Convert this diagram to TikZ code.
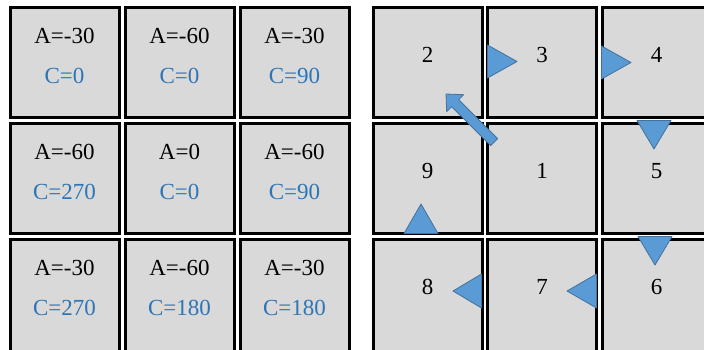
\documentclass[tikz,border=0pt]{standalone}
\usepackage{fontspec}
\setmainfont{Liberation Serif}
\definecolor{cellgray}{RGB}{217,217,217}
\definecolor{cblue}{RGB}{46,117,182}
\definecolor{mfill}{RGB}{91,155,213}
\definecolor{mline}{RGB}{65,113,156}
\tikzset{
  cell/.style={draw=black, line width=3pt, fill=cellgray, inner sep=0pt,
    minimum width=109pt, anchor=north west},
  alabel/.style={anchor=base, text=black, inner sep=0pt,
    font=\fontsize{23}{27}\selectfont},
  clabel/.style={alabel, text=cblue},
  marker/.style={fill=mfill, draw=mline, line width=0.8pt, line join=round}
}
\begin{document}
\begin{tikzpicture}[x=1pt, y=-1pt]
  \useasboundingbox (0,0) rectangle (704,349);
  \clip (0,0) rectangle (704,349);
  % Left grid: A and C values
  \foreach \r/\top/\h in {1/5.5/110.5, 2/121.5/110.5, 3/237.5/120}
    \foreach \c/\left in {1/8.5, 2/123.5, 3/238.5}
      \node[cell, minimum height=\h pt] (L\r\c) at (\left,\top) {};
  \foreach \r/\c/\a/\cc in {1/1/-30/0, 1/2/-60/0, 1/3/-30/90,
                            2/1/-60/270, 2/2/0/0, 2/3/-60/90,
                            3/1/-30/270, 3/2/-60/180, 3/3/-30/180} {
    \node[alabel] (A\r\c) at ([yshift=-37.5pt]L\r\c.north) {A=\a};
    \node[clabel] (C\r\c) at ([yshift=-77.5pt]L\r\c.north) {C=\cc};
  }
  % Right grid: numbered cells
  \foreach \r/\top/\h in {1/5.5/110.5, 2/121.5/110.5, 3/237.5/120}
    \foreach \c/\left in {1/371.5, 2/486, 3/600.5}
      \node[cell, minimum height=\h pt] (R\r\c) at (\left,\top) {};
  \foreach \r/\c/\n in {1/1/2, 1/2/3, 1/3/4, 2/1/9, 2/2/1, 2/3/5,
                        3/1/8, 3/2/7, 3/3/6}
    \node[alabel] (N\n) at ([yshift=-56.5pt]R\r\c.north) {\n};
  % Direction markers
  \draw[marker] (487.5,45) -- (517,61.5) -- (487.5,78) -- cycle;
  \draw[marker] (601.5,46) -- (631,62.5) -- (601.5,79) -- cycle;
  \draw[marker] (637,120.5) -- (654,149) -- (671,120.5) -- cycle;
  \draw[marker] (638,236.5) -- (655,265) -- (672,236.5) -- cycle;
  \draw[marker] (596.5,274) -- (567,291) -- (596.5,308) -- cycle;
  \draw[marker] (481.5,274) -- (453,291) -- (481.5,308) -- cycle;
  \draw[marker] (404,233.5) -- (421,204) -- (438,233.5) -- cycle;
  % Arrow from 1 to 2
  \draw[marker] (446,94) -- (463.7,94.7) -- (458.7,99.7) -- (497.6,138.6)
    -- (490.6,145.6) -- (451.7,106.7) -- (446.7,111.7) -- cycle;
\end{tikzpicture}
\end{document}
